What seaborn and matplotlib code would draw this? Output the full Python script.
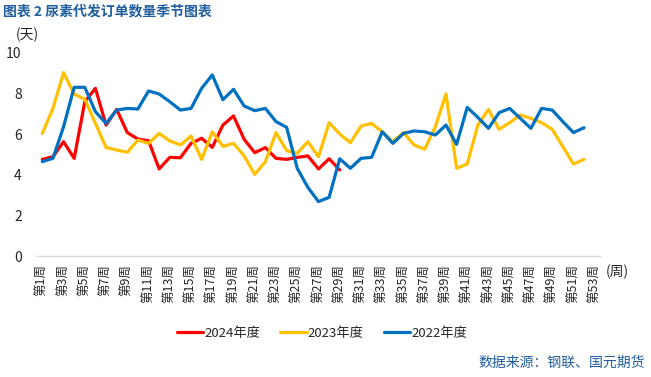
import numpy as np
import pandas as pd
import seaborn as sns
import matplotlib.pyplot as plt

weeks = list(range(1, 54))
tick_weeks = list(range(1, 54, 2))
tick_labels = [f'第{w}周' for w in tick_weeks]

# 2024 data ends at week 29, 2023/2022 at week 52
y2024 = [4.76, 4.89, 5.63, 4.81, 7.6, 8.26, 6.45, 7.22, 6.08, 5.76,
         5.68, 4.29, 4.86, 4.84, 5.55, 5.8, 5.35, 6.45, 6.9, 5.75,
         5.09, 5.34, 4.81, 4.76, 4.86, 4.93, 4.29, 4.79, 4.24]
y2023 = [6.04, 7.27, 9.03, 7.98, 7.72, 6.53, 5.35, 5.22, 5.11, 5.71,
         5.55, 6.04, 5.67, 5.47, 5.91, 4.76, 6.12, 5.4, 5.55, 4.93,
         4.02, 4.65, 6.08, 5.19, 5.06, 5.63, 4.89, 6.57, 6.01, 5.58,
         6.4, 6.53, 6.12, 5.63, 6.08, 5.47, 5.26, 6.37, 7.98, 4.32,
         4.53, 6.45, 7.22, 6.24, 6.57, 6.95, 6.78, 6.57, 6.24, 5.39,
         4.53, 4.76]
y2022 = [4.65, 4.81, 6.37, 8.31, 8.31, 7.11, 6.53, 7.19, 7.27, 7.24,
         8.13, 7.98, 7.6, 7.19, 7.27, 8.26, 8.92, 7.7, 8.21, 7.39,
         7.16, 7.27, 6.62, 6.34, 4.32, 3.38, 2.68, 2.89, 4.79, 4.32,
         4.81, 4.86, 6.12, 5.55, 6.04, 6.16, 6.12, 5.96, 6.45, 5.5,
         7.32, 6.83, 6.29, 7.06, 7.27, 6.78, 6.29, 7.27, 7.19, 6.62,
         6.08, 6.32]

series = ['2024年度', '2023年度', '2022年度']
colors = ['#FF0000', '#FFC000', '#0070C0']

df = pd.concat([
    pd.DataFrame({'week': weeks[:len(v)], 'value': v, 'year': name})
    for name, v in zip(series, [y2024, y2023, y2022])
])

sns.set_style('white')
plt.rcParams['font.family'] = ['Noto Sans CJK SC', 'DejaVu Sans']

fig = plt.figure(figsize=(6.51, 3.77), dpi=100)
ax = fig.add_axes([37 / 651, 1 - 256 / 377, 563 / 651, 203 / 377])

sns.lineplot(data=df, x='week', y='value', hue='year', hue_order=series,
             palette=colors, linewidth=2.3, ax=ax, legend=True)

ax.set_xlim(0.5, 53.5)
ax.set_ylim(0, 10)
ax.set_yticks([0, 2, 4, 6, 8, 10])
ax.set_xticks(tick_weeks)
ax.set_xticklabels(tick_labels, rotation=90, fontsize=9)
ax.tick_params(axis='y', labelsize=10, length=0, pad=11)
ax.tick_params(axis='x', length=0, pad=6)
ax.set_xlabel('')
ax.set_ylabel('')
for s in ['top', 'right', 'left']:
    ax.spines[s].set_visible(False)
ax.spines['bottom'].set_color('#D9D9D9')
ax.spines['bottom'].set_linewidth(1)

handles, labels = ax.get_legend_handles_labels()
ax.get_legend().remove()
fig.legend(handles, labels, loc='center', bbox_to_anchor=(322 / 651, 1 - 333 / 377),
           ncol=3, frameon=False, fontsize=9.5, handlelength=2.0,
           handletextpad=0.1, columnspacing=1.5)

fig.text(3 / 651, 1 - 11 / 377, '图表 2 尿素代发订单数量季节图表', ha='left', va='center',
         fontsize=10, fontweight='bold', color='#1F5FA0')
fig.text(27 / 651, 1 - 35 / 377, '(天)', ha='center', va='center', fontsize=10)
fig.text(617 / 651, 1 - 272 / 377, '(周)', ha='center', va='center', fontsize=10)
fig.text(645 / 651, 1 - 363 / 377, '数据来源：钢联、国元期货', ha='right', va='center',
         fontsize=10, color='#1F5FA0')

fig.savefig('out.png', dpi=100)
